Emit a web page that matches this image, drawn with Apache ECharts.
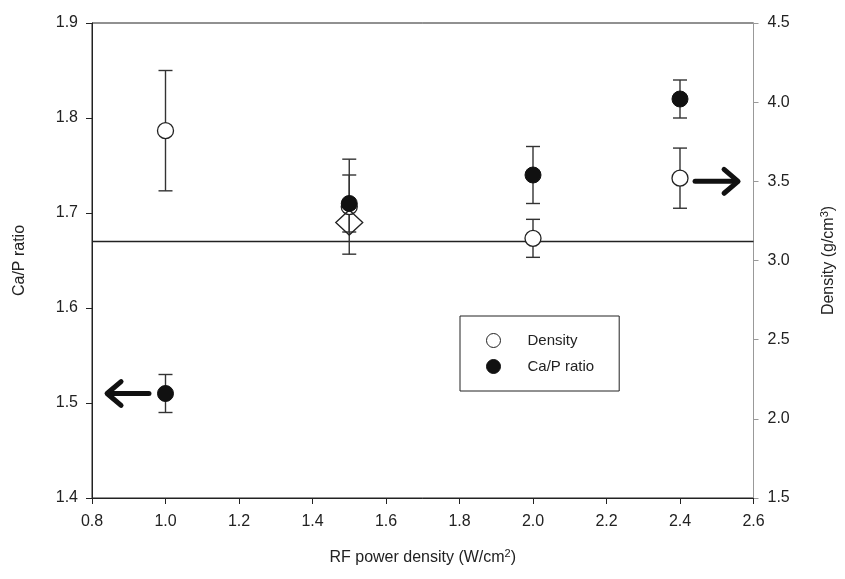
<!DOCTYPE html>
<html><head><meta charset="utf-8">
<script src="https://cdn.jsdelivr.net/npm/echarts@6/dist/echarts.min.js"></script>
<style>html,body{margin:0;padding:0;background:#fff}#c{width:845px;height:579px}</style>
</head><body><div id="c"></div>
<script>
// Data
const powerDensity = [1.0, 1.5, 2.0, 2.4];
const density = [3.82, 3.34, 3.14, 3.52];
const densityErr = [0.38, 0.30, 0.12, 0.19];
const caP = [1.51, 1.71, 1.74, 1.82];
const caPErr = [0.02, 0.03, 0.03, 0.02];
const diamondPoint = [[1.5, 1.69]];
const stoichRatio = 1.67;
const xTicks = {min: 0.8, max: 2.6, interval: 0.2};
const leftTicks = {min: 1.4, max: 1.9, interval: 0.1};
const rightTicks = {min: 1.5, max: 4.5, interval: 0.5};
// arrows: [xStart, xEnd, y]
const arrowLeft = [[0.955, 0.841, 1.51]];
const arrowRight = [[2.441, 2.558, 3.5]];

const chart = echarts.init(document.getElementById('c'));
const font = 'Liberation Sans, Arial, sans-serif';

function errData(xs, ys, es) { return xs.map((x, i) => [x, ys[i] - es[i], ys[i] + es[i]]); }
function errRender(params, api) {
  const x = api.value(0);
  const lo = api.coord([x, api.value(1)]);
  const hi = api.coord([x, api.value(2)]);
  const w = 7;
  const st = {stroke: '#333', lineWidth: 1.4, fill: null};
  return {type: 'group', children: [
    {type: 'line', shape: {x1: lo[0], y1: lo[1], x2: hi[0], y2: hi[1]}, style: st},
    {type: 'line', shape: {x1: lo[0] - w, y1: lo[1], x2: lo[0] + w, y2: lo[1]}, style: st},
    {type: 'line', shape: {x1: hi[0] - w, y1: hi[1], x2: hi[0] + w, y2: hi[1]}, style: st}
  ]};
}
function arrowRender(params, api) {
  const p0 = api.coord([api.value(0), api.value(2)]);
  const p1 = api.coord([api.value(1), api.value(2)]);
  const dir = p1[0] > p0[0] ? 1 : -1;
  const h = 14;
  const st = {stroke: '#111', lineWidth: 5, fill: null, lineCap: 'round', lineJoin: 'round'};
  return {type: 'group', children: [
    {type: 'line', shape: {x1: p0[0], y1: p0[1], x2: p1[0] - dir * 2, y2: p1[1]}, style: st},
    {type: 'polyline', shape: {points: [[p1[0] - dir * h, p1[1] - h * 0.85], [p1[0], p1[1]], [p1[0] - dir * h, p1[1] + h * 0.85]]}, style: st}
  ]};
}

const supRich = {sup: {fontSize: 11, verticalAlign: 'top', padding: [0, 0, 8, 0], color: '#222', fontFamily: font}};
const option = {
  backgroundColor: '#fff',
  animation: false,
  textStyle: {fontFamily: font},
  grid: {left: 92, right: 91, top: 23, bottom: 81, show: true, borderColor: '#222', borderWidth: 1},
  legend: {
    data: ['Density', 'Ca/P ratio'],
    orient: 'vertical', left: 460, top: 316,
    padding: [17, 25, 17, 26], itemGap: 11, itemWidth: 14, itemHeight: 14,
    borderColor: '#222', borderWidth: 1, borderRadius: 0,
    itemStyle: {borderWidth: 1},
    textStyle: {fontSize: 15, color: '#222', fontFamily: font, padding: [0, 0, 0, 22]}
  },
  xAxis: {
    type: 'value', min: xTicks.min, max: xTicks.max, interval: xTicks.interval,
    name: 'RF power density (W/cm{sup|2})', nameLocation: 'middle', nameGap: 50,
    nameTextStyle: {fontSize: 16, color: '#222', fontFamily: font, rich: supRich},
    axisLine: {lineStyle: {color: '#222', width: 1}},
    axisTick: {length: 6, lineStyle: {color: '#222'}},
    axisLabel: {fontSize: 16, color: '#222', margin: 16, formatter: v => v.toFixed(1)},
    splitLine: {show: false}
  },
  yAxis: [{
    type: 'value', min: leftTicks.min, max: leftTicks.max, interval: leftTicks.interval,
    name: 'Ca/P ratio', nameLocation: 'middle', nameGap: 64, nameRotate: 90,
    nameTextStyle: {fontSize: 16, color: '#222', fontFamily: font},
    axisLine: {show: true, lineStyle: {color: '#222'}},
    axisTick: {show: true, length: 6, lineStyle: {color: '#222'}},
    axisLabel: {fontSize: 16, color: '#222', margin: 14, formatter: v => v.toFixed(1)},
    splitLine: {show: false}
  }, {
    type: 'value', position: 'right', min: rightTicks.min, max: rightTicks.max, interval: rightTicks.interval,
    name: 'Density (g/cm{sup|3})', nameLocation: 'middle', nameGap: 66, nameRotate: 90,
    nameTextStyle: {fontSize: 16, color: '#222', fontFamily: font, rich: supRich},
    axisLine: {show: true, lineStyle: {color: '#999'}},
    axisTick: {show: true, length: 5, lineStyle: {color: '#999'}},
    axisLabel: {fontSize: 16, color: '#222', margin: 14, formatter: v => v.toFixed(1)},
    splitLine: {show: false}
  }],
  series: [
    {name: 'refLine', type: 'line', yAxisIndex: 0, data: [[xTicks.min, stoichRatio], [xTicks.max, stoichRatio]],
     symbol: 'none', lineStyle: {color: '#222', width: 1.6}, z: 1, silent: true},
    {name: 'densityErr', type: 'custom', yAxisIndex: 1, data: errData(powerDensity, density, densityErr), renderItem: errRender, z: 2, silent: true},
    {name: 'caPErr', type: 'custom', yAxisIndex: 0, data: errData(powerDensity, caP, caPErr), renderItem: errRender, z: 2, silent: true},
    {name: 'Density', type: 'scatter', yAxisIndex: 1, data: powerDensity.map((x, i) => [x, density[i]]),
     symbol: 'circle', symbolSize: 16, itemStyle: {color: '#fff', borderColor: '#222', borderWidth: 1.3, opacity: 1}, z: 3},
    {name: 'diamond', type: 'scatter', yAxisIndex: 0, data: diamondPoint,
     symbol: 'diamond', symbolSize: [27, 25], itemStyle: {color: 'rgba(255,255,255,0)', borderColor: '#222', borderWidth: 1.3, opacity: 1}, z: 4},
    {name: 'Ca/P ratio', type: 'scatter', yAxisIndex: 0, data: powerDensity.map((x, i) => [x, caP[i]]),
     symbol: 'circle', symbolSize: 16, itemStyle: {color: '#111', borderColor: '#111', borderWidth: 1, opacity: 1}, z: 5},
    {name: 'arrowL', type: 'custom', yAxisIndex: 0, data: arrowLeft, renderItem: arrowRender, z: 6, silent: true},
    {name: 'arrowR', type: 'custom', yAxisIndex: 1, data: arrowRight, renderItem: arrowRender, z: 6, silent: true}
  ]
};
chart.setOption(option);
</script></body></html>
